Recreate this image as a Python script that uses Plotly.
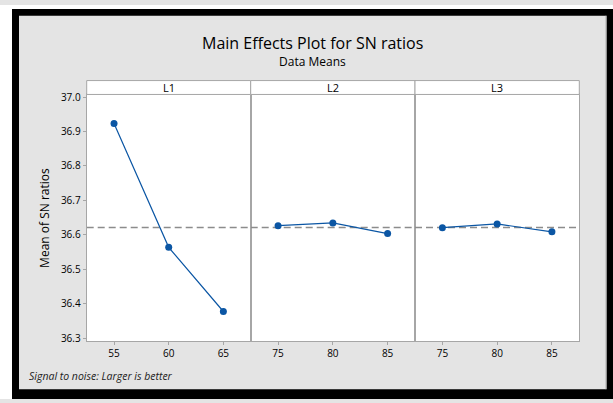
import plotly.graph_objects as go

# Data
factors = ["L1", "L2", "L3"]
L1_levels = [55, 60, 65]
L2_levels = [75, 80, 85]
L3_levels = [75, 80, 85]
L1_sn = [36.923, 36.564, 36.378]
L2_sn = [36.627, 36.635, 36.604]
L3_sn = [36.621, 36.632, 36.609]
y_ticks = [36.3, 36.4, 36.5, 36.6, 36.7, 36.8, 36.9, 37.0]

W, H = 613, 403
BLUE = "#0b56a4"
GRID = "#a6a6a6"
BG = "#e4e4e4"
FONT = "Open Sans, sans-serif"


def px_x(v):
    return v / W


def px_y(v):
    return 1 - v / H


panel_edges = [86.7, 250.7, 415.0, 579.3]
plot_top, plot_bottom, strip_top = 91.5, 344.0, 77.3

levels = [L1_levels, L2_levels, L3_levels]
values = [L1_sn, L2_sn, L3_sn]
all_vals = L1_sn + L2_sn + L3_sn
grand_mean = sum(all_vals) / len(all_vals)

fig = go.Figure()
for i, (lv, vals) in enumerate(zip(levels, values)):
    suffix = "" if i == 0 else str(i + 1)
    fig.add_trace(go.Scatter(
        x=lv, y=vals, mode="lines+markers",
        line=dict(color=BLUE, width=1.2),
        marker=dict(color=BLUE, size=7),
        xaxis="x" + suffix, yaxis="y" + suffix,
        showlegend=False, hoverinfo="x+y"
    ))

layout = dict(
    width=W, height=H,
    margin=dict(l=0, r=0, t=0, b=0),
    paper_bgcolor=BG,
    plot_bgcolor="white",
    font=dict(family=FONT, color="#222222", size=10),
    showlegend=False,
)

for i in range(3):
    suffix = "" if i == 0 else str(i + 1)
    lv = levels[i]
    layout["xaxis" + suffix] = dict(
        domain=[px_x(panel_edges[i]), px_x(panel_edges[i + 1])],
        range=[lv[0] - 2.5, lv[-1] + 2.5],
        tickvals=lv, ticks="outside", ticklen=3, tickcolor=GRID,
        showline=True, linecolor=GRID, linewidth=1, mirror=True,
        showgrid=False, zeroline=False,
        anchor="y" + suffix,
        tickfont=dict(size=10, color="#000000"),
    )
    ydict = dict(
        domain=[px_y(plot_bottom), px_y(plot_top)],
        range=[36.2915, 37.0075],
        showline=True, linecolor=GRID, linewidth=1, mirror=True,
        showgrid=False, zeroline=False,
        anchor="x" + suffix,
    )
    if i == 0:
        ydict.update(
            tickvals=y_ticks, ticktext=[f"{t:.1f}" for t in y_ticks],
            ticks="outside", ticklen=3, tickcolor=GRID,
            tickfont=dict(size=10, color="#000000"),
        )
    else:
        ydict.update(matches="y", showticklabels=False, ticks="")
    layout["yaxis" + suffix] = ydict

fig.update_layout(**layout)


def band(x0, x1, y0, y1, color):
    # pixel box (top-left origin) drawn in paper coordinates
    return dict(type="rect", xref="paper", yref="paper", layer="below",
                x0=px_x(x0), x1=px_x(x1), y0=px_y(y1), y1=px_y(y0),
                fillcolor=color, line=dict(width=0))


shapes = [
    band(0, 12, 0, 403, "white"),
    band(0, 613, 0, 4, "white"),
    band(12, 19, 4, 403, "black"),
    band(12, 613, 4, 11, "black"),
    band(606.5, 613, 4, 403, "black"),
    band(12, 613, 393, 403, "black"),
    dict(type="line", xref="paper", yref="paper", layer="below",
         x0=px_x(606), x1=px_x(606), y0=px_y(393), y1=px_y(11),
         line=dict(color="#b0b0b0", width=1)),
]
for i in range(3):
    shapes.append(dict(
        type="rect", xref="paper", yref="paper",
        x0=px_x(panel_edges[i]), x1=px_x(panel_edges[i + 1]),
        y0=px_y(plot_top), y1=px_y(strip_top),
        fillcolor="white", line=dict(color=GRID, width=1)))
# reference line at the grand mean
for i in range(3):
    suffix = "" if i == 0 else str(i + 1)
    lv = levels[i]
    shapes.append(dict(
        type="line", xref="x" + suffix, yref="y" + suffix,
        x0=lv[0] - 2.5, x1=lv[-1] + 2.5, y0=grand_mean, y1=grand_mean,
        line=dict(color="#8c8c8c", width=1.6, dash="7px,4px"), layer="below"))
fig.update_layout(shapes=shapes)

annotations = [
    dict(text="Main Effects Plot for SN ratios", x=px_x(313), y=px_y(39),
         font=dict(size=16, color="#000000")),
    dict(text="Data Means", x=px_x(313), y=px_y(58),
         font=dict(size=12, color="#000000")),
    dict(text="Mean of SN ratios", x=px_x(45), y=px_y((plot_top + plot_bottom) / 2),
         textangle=-90, font=dict(size=12, color="#000000")),
    dict(text="<i>Signal to noise: Larger is better</i>", x=px_x(27), y=px_y(379),
         xanchor="left", font=dict(size=10.5, color="#222222")),
]
for i, name in enumerate(factors):
    annotations.append(dict(
        text=name, x=px_x((panel_edges[i] + panel_edges[i + 1]) / 2),
        y=px_y((plot_top + strip_top) / 2),
        font=dict(size=11, color="#000000")))
for a in annotations:
    a.setdefault("xanchor", "center")
    a.setdefault("yanchor", "middle")
    a.update(xref="paper", yref="paper", showarrow=False)
fig.update_layout(annotations=annotations)

fig.write_html("out.html", config={"displayModeBar": False},
               post_script="document.body.style.margin='0';")
